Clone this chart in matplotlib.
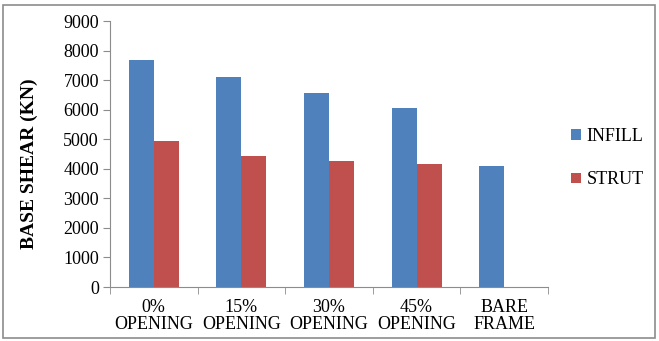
import matplotlib
matplotlib.use("Agg")
import matplotlib.pyplot as plt
from matplotlib.patches import Rectangle
import numpy as np

categories = ["0%\nOPENING", "15%\nOPENING", "30%\nOPENING", "45%\nOPENING", "BARE\nFRAME"]
infill = [7680, 7120, 6570, 6050, 4080]
strut = [4940, 4430, 4265, 4175, 0]
yticks = [0, 1000, 2000, 3000, 4000, 5000, 6000, 7000, 8000, 9000]

plt.rcParams['font.family'] = ['Liberation Serif', 'DejaVu Serif']

fig = plt.figure(figsize=(6.59, 3.41), dpi=100)
fig.patches.append(Rectangle((3/659, 3/341), 652/659, 333/341, transform=fig.transFigure,
                             fill=False, edgecolor='#8c8c8c', linewidth=1.2))
ax = fig.add_axes([110/659, 1-287/341, 438/659, 266/341])

x = np.arange(len(categories))
w = 0.285
ax.bar(x - w/2, infill, w, color='#4f81bd', label='INFILL')
ax.bar(x[:4] + w/2, strut[:4], w, color='#c0504d', label='STRUT')

ax.set_xlim(-0.5, len(categories) - 0.5)
ax.set_ylim(0, 9000)
ax.set_yticks(yticks)
ax.set_yticklabels([str(v) for v in yticks], fontsize=13)
ax.set_xticks(x)
ax.set_xticklabels(categories, fontsize=13, linespacing=0.95)
ax.tick_params(axis='x', length=0, pad=9)
ax.set_xticks(np.arange(-0.5, len(categories), 1), minor=True)
ax.tick_params(axis='x', which='minor', length=5, color='#8c8c8c')
ax.tick_params(axis='y', length=5, color='#8c8c8c', pad=3)
for s in ['top', 'right']:
    ax.spines[s].set_visible(False)
for s in ['left', 'bottom']:
    ax.spines[s].set_color('#8c8c8c')
ax.set_ylabel('BASE SHEAR (KN)', fontsize=14, fontweight='bold')
ax.yaxis.set_label_coords(-0.164, 0.462)

leg = fig.legend(loc='upper left', bbox_to_anchor=(555/659, 1-112/341), frameon=False,
                 fontsize=13, handlelength=0.55, handleheight=0.55, handletextpad=0.3,
                 labelspacing=1.45)

fig.savefig('out.png', dpi=100)
